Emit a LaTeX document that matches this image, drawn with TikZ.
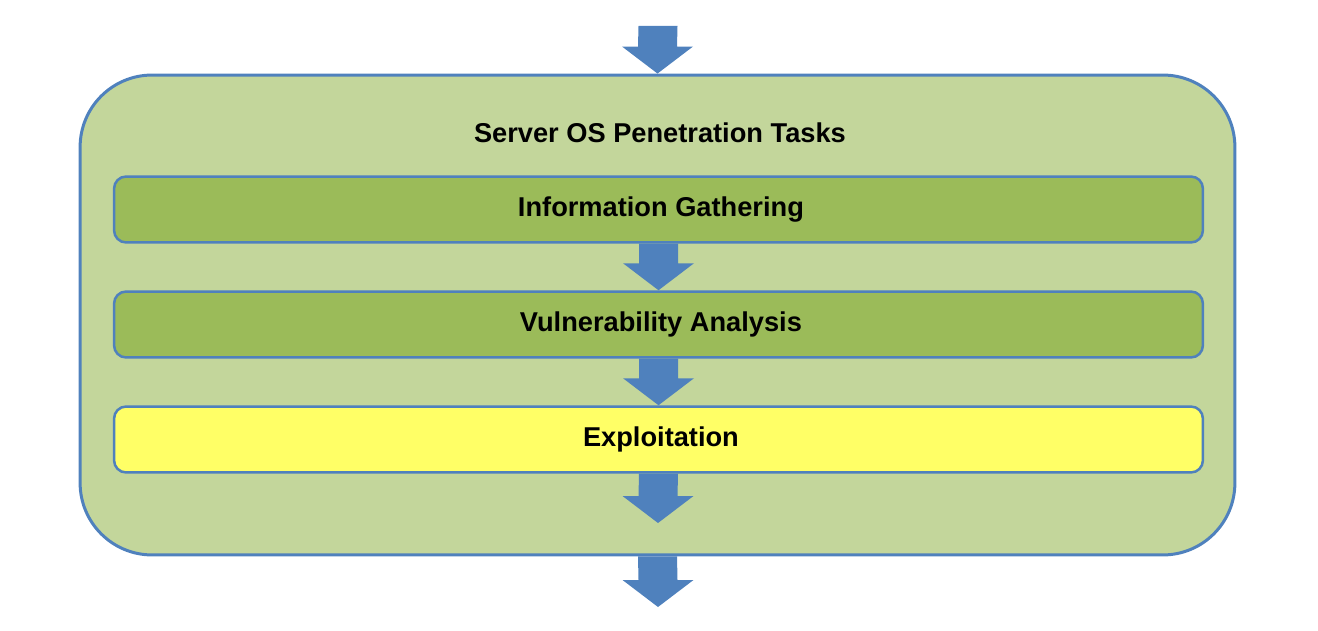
\documentclass[tikz,border=0pt]{standalone}
\usepackage{fontspec}
\setmainfont{Liberation Sans}
\usetikzlibrary{calc}
\definecolor{taskgreen}{HTML}{C3D69B}
\definecolor{stepgreen}{HTML}{9BBB59}
\definecolor{stepyellow}{HTML}{FFFF66}
\definecolor{flowblue}{HTML}{4F81BD}
\begin{document}
\begin{tikzpicture}[x=0.02cm,y=-0.02cm,
		taskbox/.style={draw=flowblue, line width=0.06cm, fill=taskgreen, rounded corners=1.44cm,
			minimum width=23.1cm, minimum height=9.6cm, inner sep=0pt},
		stepbox/.style={draw=flowblue, line width=0.05cm, fill=stepgreen, rounded corners=0.24cm,
			minimum width=21.78cm, minimum height=1.32cm, inner sep=0pt, font=\steplabel},
		hotstep/.style={stepbox, fill=stepyellow}]
		\newcommand{\steplabel}{
			\fontsize{15.5}{18}\selectfont\bfseries
		}\newcommand{\flowarrow}[2]{
			\fill [flowblue] ($(#1)+(-19.5,0)$) -- ($(#2)+(-19.5,-27)$) -- ($(#2)+(-35.5,-27)$) -- (#2)
				-- ($(#2)+(35.5,-27)$) -- ($(#2)+(19.5,-27)$) -- ($(#1)+(19.5,0)$) -- cycle;
		}%Page size
		\useasboundingbox (0,0) rectangle (1318,631);
		%Outer box with the tasks
		\node [taskbox] (tasks) at (657.5,315) {};
		\node [font=\steplabel] (title) at (657.5,133) {Server OS Penetration Tasks};
		%The three steps
		\node [stepbox] (gather) at (658.5,209.5) {Information Gathering};
		\node [stepbox] (vuln) at (658.5,324.5) {Vulnerability Analysis};
		\node [hotstep] (exploit) at (658.5,439.5) {Exploitation};
		%Free ends of the arrows
		\coordinate (enter) at (658,26);
		\coordinate (exploitTip) at (658,523);
		\coordinate (leave) at (658,607);
		%Block arrows
		\flowarrow{enter}{tasks.north}
		\flowarrow{gather.south}{vuln.north}
		\flowarrow{vuln.south}{exploit.north}
		\flowarrow{exploit.south}{exploitTip}
		\flowarrow{tasks.south}{leave}
\end{tikzpicture}
\end{document}
